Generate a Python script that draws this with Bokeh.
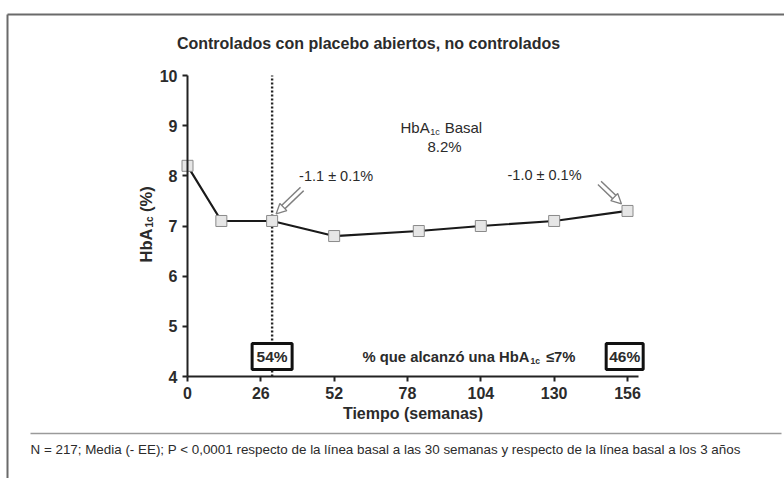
import math
from bokeh.plotting import figure
from bokeh.models import Label, Arrow, NormalHead, FixedTicker
from bokeh.embed import file_html
from bokeh.resources import INLINE

# ---------------- data ----------------
weeks = [0, 12, 30, 52, 82, 104, 130, 156]
hba1c = [8.2, 7.1, 7.1, 6.8, 6.9, 7.0, 7.1, 7.3]
x_ticks = [0, 26, 52, 78, 104, 130, 156]
y_ticks = [4, 5, 6, 7, 8, 9, 10]
target_weeks = [30, 155]
target_pct = ["54%", "46%"]
change_weeks = [30, 156]
change_values = [7.1, 7.3]
change_labels = ["-1.1 \u00b1 0.1%", "-1.0 \u00b1 0.1%"]
baseline_label = "8.2%"
title_text = "Controlados con placebo abiertos, no controlados"
footer_text = ("N = 217; Media (- EE); P < 0,0001 respecto de la l\u00ednea basal a las 30 semanas "
               "y respecto de la l\u00ednea basal a los 3 a\u00f1os")

# ---------------- layout ----------------
W, H = 784, 478
OX, SX = 187.0, 440.0 / 156     # pixel of x=0, px per week
OY, SY = 376.0, 301.0 / 6       # pixel of y=4, px per unit
FONT = "Liberation Sans"
TXT = "#2b2b2b"


def DX(rx):
    return (rx - OX) / SX


def DY(ry):
    return 4 + (OY - ry) / SY


def PX(x):
    return OX + x * SX


def PY(y):
    return OY - (y - 4) * SY


p = figure(width=W, height=H, x_range=(DX(0), DX(W)), y_range=(DY(H), DY(0)),
           output_backend="svg", toolbar_location=None, min_border=0)
p.outline_line_color = None
p.grid.visible = False
p.background_fill_color = "white"
p.border_fill_color = "white"

for ax in (p.xaxis, p.yaxis):
    ax.axis_line_width = 2
    ax.axis_line_color = "#222222"
    ax.major_tick_line_width = 2
    ax.major_tick_line_color = "#222222"
    ax.major_tick_out = 5
    ax.major_tick_in = 0
    ax.minor_tick_line_color = None
    ax.major_label_text_font = FONT
    ax.major_label_text_font_style = "bold"
    ax.major_label_text_font_size = "16px"
    ax.major_label_text_color = TXT

p.xaxis.ticker = FixedTicker(ticks=x_ticks)
p.yaxis.ticker = FixedTicker(ticks=y_ticks)
p.xaxis.bounds = (0, 160)
p.yaxis.bounds = (4, 10)
p.xaxis.fixed_location = 4
p.yaxis.fixed_location = 0
p.xaxis.major_label_standoff = 5
p.yaxis.major_label_standoff = 5
p.xaxis.axis_label = "Tiempo (semanas)"
p.xaxis.axis_label_text_font = FONT
p.xaxis.axis_label_text_font_style = "bold"
p.xaxis.axis_label_text_font_size = "16px"
p.xaxis.axis_label_text_color = TXT
p.xaxis.axis_label_standoff = 3

# dotted line at week 30
p.segment(x0=[target_weeks[0]], y0=[4], x1=[target_weeks[0]], y1=[10],
          line_color="#222222", line_width=2.4, line_dash="2 2")

# main series
p.line(weeks, hba1c, line_color="#1a1a1a", line_width=2.2)
p.scatter(weeks, hba1c, marker="square", size=11, fill_color="#e6e6e6",
          line_color="#8a8a8a", line_width=1)


def label(rx, ry, text, size, bold=False, align="left", angle=0, color=TXT):
    p.add_layout(Label(x=DX(rx), y=DY(ry), text=text, text_font=FONT,
                       text_font_size=f"{size}px",
                       text_font_style="bold" if bold else "normal",
                       text_align=align, text_baseline="middle",
                       angle=angle, text_color=color))


# title
label(368, 43, title_text, 16, bold=True, align="center")

# y-axis label (rotated, with subscript)
ylx, yly = 145, 262
fs_y = 16.5
label(ylx, yly, "HbA", fs_y, bold=True, angle=math.pi / 2)
w_hba = 2.055 * fs_y
label(ylx + 4, yly - w_hba - 1, "1c", 10, bold=True, angle=math.pi / 2)
w_sub = 1.112 * 10
label(ylx, yly - w_hba - w_sub - 1 - 4.5, "(%)", fs_y, bold=True, angle=math.pi / 2)

# baseline annotation
bx, by = 400, 127
fs_b = 15
label(bx, by, "HbA", fs_b)
w1 = 1.945 * fs_b
label(bx + w1 + 0.5, by + 4, "1c", 9)
label(bx + w1 + 1.112 * 9 + 5, by, "Basal", fs_b)
label(444, 146, baseline_label, fs_b, align="center")

# change labels + hollow arrows
ch_offsets = [(27, -45), (-120, -36)]
arrow_vec = [((30, -32), (4, -7)), ((-28, -28), (-6, -7))]
for wk, val, txt, off, (tail, tip) in zip(change_weeks, change_values, change_labels,
                                           ch_offsets, arrow_vec):
    mx, my = PX(wk), PY(val)
    label(mx + off[0], my + off[1], txt, 14.5)
    tx, ty = mx + tail[0], my + tail[1]
    hx, hy = mx + tip[0], my + tip[1]
    L = math.hypot(hx - tx, hy - ty)
    ux, uy = (hx - tx) / L, (hy - ty) / L
    bxs, bys = hx - ux * 9, hy - uy * 9
    p.segment(x0=[DX(tx)], y0=[DY(ty)], x1=[DX(bxs)], y1=[DY(bys)],
              line_color="#808080", line_width=6, line_cap="butt")
    p.segment(x0=[DX(tx - ux * 1.2)], y0=[DY(ty - uy * 1.2)], x1=[DX(bxs + ux)], y1=[DY(bys + uy)],
              line_color="white", line_width=3.2, line_cap="butt")
    p.add_layout(Arrow(x_start=DX(bxs), y_start=DY(bys), x_end=DX(hx), y_end=DY(hy),
                       line_alpha=0,
                       end=NormalHead(size=10, fill_color="white", line_color="#808080",
                                      line_width=1.3)))

# target boxes
box_y = DY(356)
box_w = [40, 37]
p.rect(x=target_weeks, y=[box_y, box_y], width=box_w, height=26,
       width_units="screen", height_units="screen",
       fill_color="white", line_color="#111111", line_width=3)
for wk, t in zip(target_weeks, target_pct):
    p.text(x=[wk], y=[box_y], text=[t], text_align="center", text_baseline="middle",
           text_font_size="15.5px", text_font_style="bold", text_color=TXT,
           text_font={"value": FONT})

# goal text
gx, gy = 362, 356
fs_g = 14.8
label(gx, gy, "% que alcanz\u00f3 una HbA", fs_g, bold=True)
w2 = 11.28 * fs_g
label(gx + w2 + 1, gy + 4, "1c", 8.5, bold=True)
label(gx + w2 + 1 + 1.112 * 8.5 + 6, gy, "\u22647%", fs_g, bold=True)

# footer
label(30, 449, footer_text, 13.4)

# separator and outer frame
p.segment(x0=[DX(30)], y0=[DY(433)], x1=[DX(781)], y1=[DY(433)],
          line_color="#9a9a9a", line_width=1.5)
p.segment(x0=[DX(7)], y0=[DY(14)], x1=[DX(784)], y1=[DY(14)],
          line_color="#6a6a6a", line_width=2)
p.segment(x0=[DX(7)], y0=[DY(14)], x1=[DX(7)], y1=[DY(478)],
          line_color="#6a6a6a", line_width=2)

open("out.html", "w").write(file_html(p, INLINE))
